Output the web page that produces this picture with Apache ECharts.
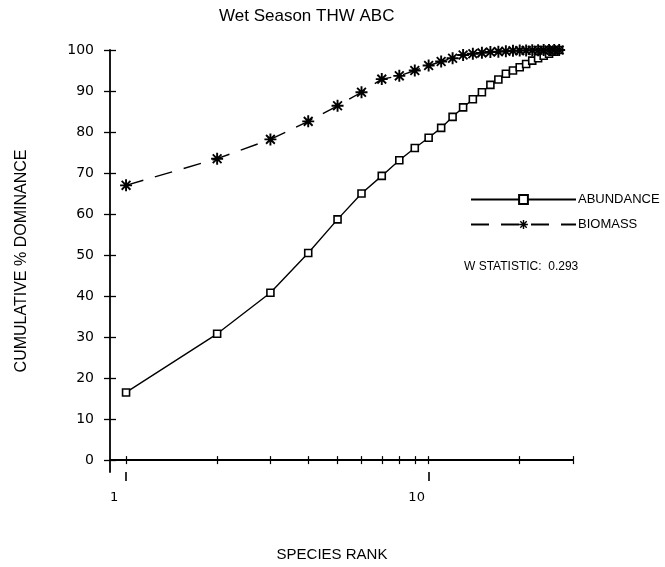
<!DOCTYPE html>
<html><head><meta charset="utf-8">
<script src="https://cdn.jsdelivr.net/npm/echarts@6/dist/echarts.min.js"></script>
<style>html,body{margin:0;padding:0;background:#fff}#c{width:665px;height:567px}</style>
</head><body><div id="c"></div>
<script>
const ranks = [1,2,3,4,5,6,7,8,9,10,11,12,13,14,15,16,17,18,19,20,21,22,23,24,25,26,27];
const abundance = [16.5,30.8,40.8,50.5,58.7,65.0,69.3,73.1,76.1,78.6,81.0,83.7,86.0,88.0,89.7,91.5,92.8,94.2,95.0,95.8,96.6,97.4,98.0,98.6,99.1,99.6,100];
const biomass = [67.0,73.5,78.2,82.6,86.4,89.7,92.9,93.7,95.0,96.2,97.2,98.0,98.8,99.1,99.3,99.5,99.6,99.7,99.8,99.85,99.9,99.93,99.95,99.97,99.98,99.99,100];
const xTickValues = [1,2,3,4,5,6,7,8,9,10,20,30];
const xLabelValues = [1,10];
const yTickValues = [0,10,20,30,40,50,60,70,80,90,100];
const seriesNames = ['ABUNDANCE','BIOMASS'];
const titleText = 'Wet Season THW ABC';
const xName = 'SPECIES RANK';
const yName = 'CUMULATIVE % DOMINANCE';
const wText = 'W STATISTIC:  0.293';

const star = 'path://M-5,-0.8L5,-0.8L5,0.8L-5,0.8Z M-0.8,-5L0.8,-5L0.8,5L-0.8,5Z M-3.1,-4.2L4.2,3.1L3.1,4.2L-4.2,-3.1Z M-4.2,3.1L3.1,-4.2L4.2,-3.1L-3.1,4.2Z';
const FONT = 'Liberation Sans';
const chart = echarts.init(document.getElementById('c'), null, {renderer:'canvas'});
const xBase = {type:'log', min:0.885, max:30, position:'bottom', splitLine:{show:false}, minorTick:{show:false}};
const yBase = {type:'value', min:-2.9, max:100, position:'left', splitLine:{show:false}};
chart.setOption({
  animation:false,
  backgroundColor:'#fff',
  title:{text:titleText, left:214, top:3, textStyle:{fontFamily:FONT, fontSize:17, fontWeight:'normal', color:'#000'}},
  grid:{left:110, right:92, top:50, bottom:93},
  legend:{orient:'vertical', left:465, top:188, itemWidth:105, itemHeight:11, itemGap:12,
    textStyle:{fontFamily:FONT, fontSize:13, color:'#000', padding:[0,0,0,-3]}, data:seriesNames},
  graphic:[{type:'text', left:464, top:261, style:{text:wText, font:'12px "Liberation Sans"', fill:'#000'}}],
  xAxis:[
    Object.assign({}, xBase, {
      axisLine:{show:true, lineStyle:{color:'#000', width:1.8}},
      axisTick:{show:true, length:4, customValues:xTickValues, lineStyle:{color:'#000', width:1.2}},
      axisLabel:{customValues:xLabelValues, margin:19, padding:[0,24,0,0], fontFamily:'DejaVu Sans', fontSize:13, color:'#000', formatter:v=>String(Math.round(v))},
      name:xName, nameLocation:'middle', nameGap:75, nameTextStyle:{fontFamily:FONT, fontSize:15, color:'#000', padding:[0,19,0,0]}
    }),
    Object.assign({}, xBase, {
      axisLine:{show:false},
      axisTick:{show:true, inside:true, length:4, customValues:xTickValues, lineStyle:{color:'#000', width:1.2}},
      axisLabel:{show:false}
    }),
    Object.assign({}, xBase, {
      axisLine:{show:false},
      axisTick:{show:true, length:9, customValues:xLabelValues, lineStyle:{color:'#000', width:1.6}},
      axisLabel:{show:false}
    })
  ],
  yAxis:[
    Object.assign({}, yBase, {
      axisLine:{show:true, lineStyle:{color:'#000', width:1.8}},
      axisTick:{show:true, length:6, customValues:yTickValues, lineStyle:{color:'#000', width:1.3}},
      axisLabel:{customValues:yTickValues, margin:16, fontFamily:'DejaVu Sans', fontSize:14, color:'#000'},
      name:yName, nameLocation:'middle', nameGap:80, nameRotate:90, nameTextStyle:{fontFamily:FONT, fontSize:16, color:'#000'}
    }),
    Object.assign({}, yBase, {
      axisLine:{show:false},
      axisTick:{show:true, inside:true, length:6, customValues:yTickValues, lineStyle:{color:'#000', width:1.3}},
      axisLabel:{show:false}
    })
  ],
  series:[
    {name:seriesNames[0], type:'line', xAxisIndex:0, yAxisIndex:0,
     data:ranks.map((r,i)=>[r, abundance[i]]),
     symbol:'rect', symbolSize:7, showAllSymbol:true,
     lineStyle:{color:'#000', width:1.4},
     itemStyle:{color:'#fff', borderColor:'#000', borderWidth:1.6}},
    {name:seriesNames[1], type:'line', xAxisIndex:0, yAxisIndex:0,
     data:ranks.map((r,i)=>[r, biomass[i]]),
     symbol:star, symbolSize:12, showAllSymbol:true,
     lineStyle:{color:'#000', width:1.4, type:[18,12]},
     itemStyle:{color:'#000'}}
  ]
});
</script></body></html>
